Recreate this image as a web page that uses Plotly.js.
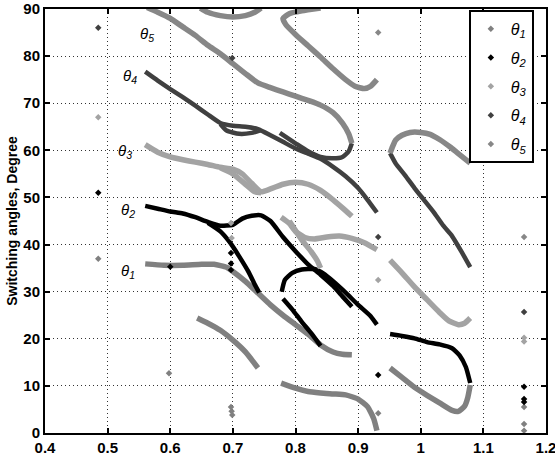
<!DOCTYPE html>
<html>
<head>
<meta charset="utf-8">
<script src="https://cdn.plot.ly/plotly-3.0.1.min.js"></script>
<style>html,body{margin:0;padding:0;background:#fff;}#chart{width:555px;height:461px;}</style>
</head>
<body>
<div id="chart"></div>
<script>
// ---- Data ----
const seriesNames = ['θ1', 'θ2', 'θ3', 'θ4', 'θ5'];
const seriesColors = ['#808080', '#000000', '#a3a3a3', '#404040', '#878787'];

// θ1 curve segments (null separates segments)
const theta1X = [0.56,0.59,0.62,0.65,0.67,0.69,0.70,0.72,0.74,0.76,0.78,0.80,0.82,0.84,0.86,0.875,0.89, null,
  0.643,0.66,0.68,0.70,0.72,0.74, null,
  0.777,0.80,0.82,0.84,0.86,0.88,0.90,0.915,0.925,0.93, null,
  0.951,0.97,0.99,1.01,1.03,1.05,1.06,1.07,1.075,1.079];
const theta1Y = [35.9,35.6,35.6,35.8,35.8,35.2,34.3,32.2,29.7,27.2,25.0,23.0,21.0,18.7,17.2,16.7,16.6, null,
  24.4,23.3,21.8,19.7,17.2,13.8, null,
  10.6,9.5,8.8,8.5,8.3,8.1,7.2,5.6,3.0,0.5, null,
  13.8,11.8,9.7,8.0,6.4,4.8,4.6,5.7,7.5,10.2];

// θ2 curve segments
const theta2X = [0.56,0.58,0.60,0.62,0.64,0.66,0.68,0.70,0.715,0.73,0.745,0.76,0.78,0.80,0.82,0.84,0.86,0.875,0.89, null,
  0.66,0.68,0.695,0.71,0.725,0.735,0.742, null,
  0.778,0.783,0.795,0.81,0.83,0.845,0.86,0.88,0.90,0.92,0.93, null,
  0.78,0.795,0.81,0.825,0.84, null,
  0.951,0.97,0.99,1.01,1.03,1.05,1.062,1.072,1.079];
const theta2Y = [48.2,47.6,47.0,46.6,45.8,44.8,44.0,44.2,45.5,46.1,46.2,45.0,41.6,38.6,35.8,33.6,31.2,29.0,26.8, null,
  44.6,42.8,40.5,37.5,34.2,31.5,29.8, null,
  30.0,32.5,34.0,34.7,34.8,33.8,32.2,29.8,27.2,24.8,23.0, null,
  28.5,26.2,23.6,21.2,18.5, null,
  21.0,20.6,20.1,19.3,18.8,18.0,16.5,14.0,10.6];

// θ3 curve segments
const theta3X = [0.56,0.58,0.60,0.62,0.64,0.66,0.68,0.70,0.715,0.73,0.745,0.76,0.78,0.80,0.82,0.84,0.86,0.875,0.89, null,
  0.68,0.70,0.72,0.735,0.745, null,
  0.777,0.79,0.80,0.815,0.83,0.85,0.87,0.89,0.91,0.93, null,
  0.79,0.81,0.825,0.835,0.84, null,
  0.951,0.97,0.99,1.01,1.03,1.045,1.06,1.07,1.079];
const theta3Y = [61.2,59.6,58.6,58.0,57.5,57.0,56.4,56.0,55.0,53.0,51.2,51.8,52.8,53.2,52.8,51.5,49.5,47.8,46.0, null,
  56.3,55.0,52.8,51.2,51.0, null,
  45.8,44.5,42.8,41.5,41.2,41.6,41.8,41.3,40.4,38.9, null,
  45.0,41.0,38.5,36.5,35.0, null,
  36.7,34.0,31.0,28.3,25.6,23.8,23.0,23.3,24.4];

// θ4 curve segments
const theta4X = [0.56,0.58,0.60,0.62,0.64,0.66,0.68,0.70,0.72,0.74,0.76,0.78,0.80,0.82,0.84,0.86,0.88,0.90,0.915,0.93, null,
  0.68,0.69,0.71,0.73,0.745, null,
  0.775,0.80,0.82,0.84,0.86,0.875,0.885,0.89, null,
  0.951,0.96,0.975,0.99,1.005,1.02,1.036,1.05,1.065,1.079];
const theta4Y = [76.7,74.8,73.0,71.3,69.5,67.6,65.8,65.2,65.0,64.5,63.2,61.8,60.4,59.3,58.2,56.5,54.5,52.0,49.5,46.8, null,
  65.6,64.2,63.5,63.7,64.3, null,
  63.7,61.5,59.8,58.6,58.3,58.6,59.8,61.5, null,
  59.4,57.2,54.7,52.0,49.5,47.0,44.0,41.8,38.5,35.2];

// θ5 curve segments
const theta5X = [0.563,0.58,0.60,0.62,0.64,0.66,0.68,0.70,0.72,0.74,0.76,0.78,0.80,0.82,0.84,0.86,0.875,0.885,0.89, null,
  0.648,0.66,0.68,0.70,0.72,0.735,0.745, null,
  0.84,0.81,0.79,0.78,0.785,0.80,0.82,0.84,0.86,0.88,0.895,0.91,0.92,0.93, null,
  1.079,1.06,1.047,1.03,1.015,1.0,0.983,0.97,0.96,0.955,0.951];
const theta5Y = [90.3,89.3,88.0,86.2,84.4,82.3,80.5,78.4,76.3,74.3,73.3,72.4,71.5,70.6,69.6,68.0,65.8,63.5,61.5, null,
  90.2,89.3,88.6,88.3,88.6,89.3,90.2, null,
  90.2,89.6,89.0,88.0,86.6,84.6,82.2,79.8,77.3,75.0,73.6,73.1,73.6,75.0, null,
  57.3,59.3,60.7,62.3,63.4,63.8,63.8,63.2,62.2,60.8,59.4];

// isolated solution points
const pts1X = [0.485,0.598,0.697,0.698,0.699,0.932,1.165,1.165,1.165];
const pts1Y = [37.0,12.7,5.5,4.6,3.8,4.2,5.5,1.9,0.5];
const pts2X = [0.485,0.600,0.697,0.697,0.697,0.932,1.165,1.165,1.165];
const pts2Y = [51.0,35.3,38.2,36.0,34.6,12.3,9.8,7.2,6.6];
const pts3X = [0.485,0.697,0.698,0.932,1.165,1.165];
const pts3Y = [67.0,44.6,41.4,32.5,20.2,19.4];
const pts4X = [0.485,0.932,0.699,1.165];
const pts4Y = [86.0,41.6,79.6,25.7];
const pts5X = [0.932,1.165];
const pts5Y = [85.0,41.6];

// curve labels
const labelText = ['θ<sub>1</sub>','θ<sub>2</sub>','θ<sub>3</sub>','θ<sub>4</sub>','θ<sub>5</sub>'];
const labelX = [0.533,0.533,0.528,0.536,0.563];
const labelY = [34.2,47.3,59.7,75.6,84.5];

const xTicks = [0.4,0.5,0.6,0.7,0.8,0.9,1,1.1,1.2];
const xTickText = ['0.4','0.5','0.6','0.7','0.8','0.9','1','1.1','1.2'];
const yTicks = [0,10,20,30,40,50,60,70,80,90];
const yTickText = ['0','10','20','30','40','50','60','70','80','90'];

// ---- Traces ----
const curveX = [theta1X, theta2X, theta3X, theta4X, theta5X];
const curveY = [theta1Y, theta2Y, theta3Y, theta4Y, theta5Y];
const ptsX = [pts1X, pts2X, pts3X, pts4X, pts5X];
const ptsY = [pts1Y, pts2Y, pts3Y, pts4Y, pts5Y];
const widths = [5.5, 4.5, 5.5, 4.5, 5.5];

const traces = [];
for (let i = 0; i < 5; i++) {
  traces.push({
    x: curveX[i], y: curveY[i], type: 'scatter', mode: 'lines',
    line: {color: seriesColors[i], width: widths[i], shape: 'spline', smoothing: 0.5},
    connectgaps: false, showlegend: false, hoverinfo: 'skip', legendgroup: 'g' + i
  });
}
for (let i = 0; i < 5; i++) {
  traces.push({
    x: ptsX[i], y: ptsY[i], type: 'scatter', mode: 'markers',
    name: '<i>θ</i><sub><i>' + (i + 1) + '</i></sub>',
    marker: {color: seriesColors[i], symbol: 'diamond', size: 5},
    legendgroup: 'g' + i
  });
}

const annotations = labelText.map((t, i) => ({
  x: labelX[i], y: labelY[i], xref: 'x', yref: 'y', text: '<i>' + t + '</i>',
  showarrow: false, xanchor: 'center', yanchor: 'middle',
  font: {family: 'Liberation Sans, Arial, sans-serif', size: 15, color: '#000'}
}));

const tickFont = {family: 'Liberation Sans Narrow, Arial Narrow, Liberation Sans, Arial, sans-serif', size: 15, color: '#000'};

const layout = {
  width: 555, height: 461,
  margin: {l: 45, r: 9, t: 9, b: 28},
  paper_bgcolor: '#fff', plot_bgcolor: '#fff',
  showlegend: true,
  legend: {
    x: 0.846, y: 0.998, xanchor: 'left', yanchor: 'top',
    bgcolor: '#fff', bordercolor: '#000', borderwidth: 2,
    tracegroupgap: 5,
    font: {family: 'Liberation Sans, Arial, sans-serif', size: 16, color: '#000'}
  },
  xaxis: {
    range: [0.4, 1.2], tickvals: xTicks, ticktext: xTickText.map(t => '<b>' + t + '</b>'),
    showline: true, mirror: 'ticks', linecolor: '#000', linewidth: 2,
    ticks: 'inside', ticklen: 5, tickwidth: 2, tickcolor: '#000',
    showgrid: true, gridcolor: '#333', gridwidth: 1, griddash: '1px,3px',
    zeroline: false, tickfont: tickFont, automargin: false, ticklabeloverflow: 'allow'
  },
  yaxis: {
    range: [0, 90], tickvals: yTicks, ticktext: yTickText.map(t => '<b>' + t + '</b>'),
    showline: true, mirror: 'ticks', linecolor: '#000', linewidth: 2,
    ticks: 'inside', ticklen: 5, tickwidth: 2, tickcolor: '#000',
    showgrid: true, gridcolor: '#333', gridwidth: 1, griddash: '1px,3px',
    zeroline: false, tickfont: tickFont, automargin: false, ticklabeloverflow: 'allow',
    title: {text: '<b>Switching angles, Degree</b>', standoff: 2,
            font: {family: 'Liberation Sans, Arial, sans-serif', size: 14, color: '#000'}}
  },
  annotations: annotations
};

Plotly.newPlot('chart', traces, layout, {displayModeBar: false, staticPlot: true});
</script>
</body>
</html>
